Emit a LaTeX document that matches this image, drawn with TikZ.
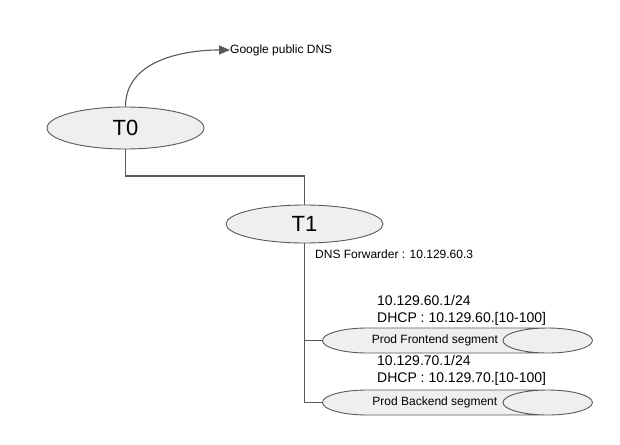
\documentclass[tikz,border=0pt]{standalone}
\usepackage{fontspec}
\setmainfont{Liberation Sans}
\usepackage{tikz}
\usetikzlibrary{%
arrows.meta,
shapes.geometric,
positioning
}
\definecolor{edgegray}{HTML}{595959}
\definecolor{fillgray}{HTML}{EFEFEF}
\tikzset{
  tier/.style={ellipse,draw=edgegray,fill=fillgray,line width=0.9pt,
    minimum width=157pt,inner sep=0pt,font=\fontsize{22}{24}\selectfont},
  segment/.style={cylinder,draw=edgegray,fill=fillgray,line width=0.9pt,
    aspect=8,minimum width=25pt,minimum height=270pt,inner sep=0pt,
    anchor=west,font=\fontsize{12}{14}\selectfont},
  link/.style={draw=edgegray,line width=1.1pt},
  note/.style={inner sep=0pt,anchor=west,font=\fontsize{12}{14}\selectfont},
  bignote/.style={inner sep=0pt,anchor=north west,align=left,
    font=\fontsize{14}{17}\selectfont}
}
\begin{document}
\begin{tikzpicture}[x=1pt,y=-1pt]
\useasboundingbox (0,0) rectangle (620,444);
        % tiers
        \node[tier,minimum height=42pt] (t0) at (125.5,128) {T0};
        \node[tier,minimum height=38pt] (t1) at (304.5,224) {T1};
        \node[note] (gdns) at (230,50) {Google public DNS};
        \node[note] (fwd) at (315,254) {DNS Forwarder : 10.129.60.3};
        % segments
        \node[segment] (front) at (322,340.5) {Prod Frontend segment};
        \node[segment] (back) at (322,402.5) {Prod Backend segment};
        \node[bignote] (frontip) at (377,295) {10.129.60.1/24\\DHCP : 10.129.60.[10-100]};
        \node[bignote] (backip) at (377,355) {10.129.70.1/24\\DHCP : 10.129.70.[10-100]};
        \coordinate (bend) at (125.5,176);
        % links
        \draw[link,-{Triangle[length=11pt,width=9pt]}] (t0.north) to[out=90,in=180] (gdns.west);
        \draw[link] (t0.south) -- (bend) -| (t1.north);
        \draw[link] (t1.south) |- (front.west);
        \draw[link] (t1.south) |- (back.west);
\end{tikzpicture}
\end{document}
